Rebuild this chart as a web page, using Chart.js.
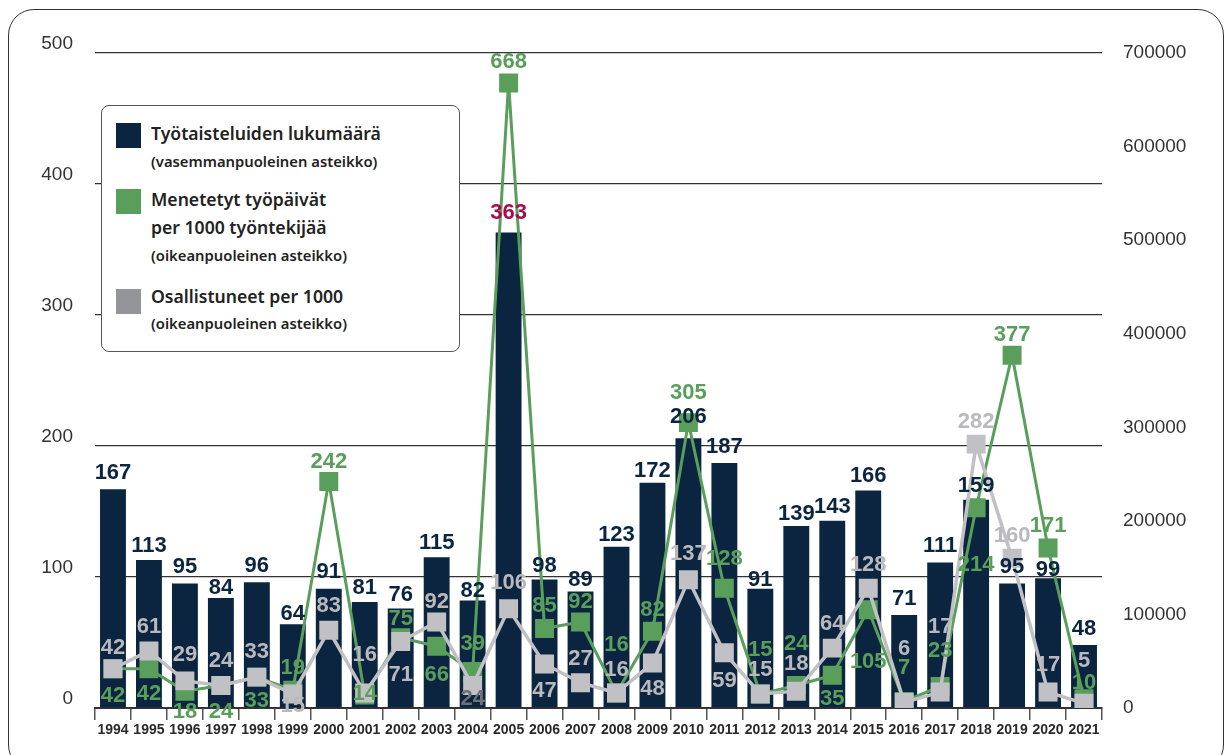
<!DOCTYPE html>
<html lang="fi">
<head>
<meta charset="utf-8">
<title>Työtaistelut 1994–2021</title>
<script src="https://cdn.jsdelivr.net/npm/chart.js@4.4.1/dist/chart.umd.min.js"></script>
<style>
    html, body { margin: 0; padding: 0; background: #fff; }
    #wrap { position: relative; width: 1232px; height: 755px; overflow: hidden; }
    #frame {
        position: absolute; left: 8px; top: 9px; width: 1214px; height: 760px;
        border: 1.5px solid #333; border-radius: 26px; pointer-events: none;
    }
    #legend {
        position: absolute; left: 101px; top: 105px; width: 357px; height: 245px;
        border: 1.5px solid #555; border-radius: 8px; background: #fff;
        font-family: "Noto Sans", sans-serif; color: #222;
    }
    #legend .sw { position: absolute; left: 14px; width: 25px; height: 25px; }
    #legend .t { position: absolute; left: 49px; white-space: nowrap; font-weight: 600; }
    #legend .big { font-size: 17.6px; line-height: 24px; }
    #legend .small { font-size: 14.8px; line-height: 20px; }
</style>
</head>
<body>
<div id="wrap">
    <canvas id="myChart" width="1232" height="755"></canvas>
    <div id="legend">
        <div class="sw" style="top:17px;background:#0b2540"></div>
        <div class="t big" style="top:15px">Työtaisteluiden lukumäärä</div>
        <div class="t small" style="top:45px">(vasemmanpuoleinen asteikko)</div>

        <div class="sw" style="top:83px;background:#5a9e5c"></div>
        <div class="t big" style="top:81px">Menetetyt työpäivät</div>
        <div class="t big" style="top:109px">per 1000 työntekijää</div>
        <div class="t small" style="top:139px">(oikeanpuoleinen asteikko)</div>

        <div class="sw" style="top:183px;background:#939598"></div>
        <div class="t big" style="top:178px">Osallistuneet per 1000</div>
        <div class="t small" style="top:207px">(oikeanpuoleinen asteikko)</div>
    </div>
    <div id="frame"></div>
</div>
<script>
// Data
const years = ['1994', '1995', '1996', '1997', '1998', '1999', '2000', '2001', '2002', '2003',
    '2004', '2005', '2006', '2007', '2008', '2009', '2010', '2011', '2012', '2013',
    '2014', '2015', '2016', '2017', '2018', '2019', '2020', '2021'];
const disputes = [167, 113, 95, 84, 96, 64, 91, 81, 76, 115, 82, 363, 98, 89, 123, 172, 206, 187,
    91, 139, 143, 166, 71, 111, 159, 95, 99, 48];
// right scale, shown in thousands (labels show the thousand value)
const lostDays = [42, 42, 18, 24, 33, 19, 242, 14, 75, 66, 39, 668, 85, 92, 16, 82, 305, 128,
    15, 24, 35, 105, 7, 23, 214, 377, 171, 10];
const participants = [42, 61, 29, 24, 33, 15, 83, 16, 71, 92, 24, 106, 47, 27, 16, 48, 137, 59,
    15, 18, 64, 128, 6, 17, 282, 160, 17, 5];
const leftTicks = [0, 100, 200, 300, 400, 500];
const rightTicks = [0, 100000, 200000, 300000, 400000, 500000, 600000, 700000];

// label placement (pixels, relative to bar top / marker centre)
const barLabelDy = [-16, -14, -17, -10, -16, -10, -17, -14, -14, -14, -10, -20, -14, -11, -12, -12,
    -21, -16, -9, -12, -14, -15, -16, -17, -14, -17, -8, -16];
const greenLabelDy = [27, 25, 21, 26, 24, -22, -20, -1, -19, 29, -28, -21, -23, -20, -48, -21,
    -30, -29, -44, -42, 24, 52, -34, -36, 57, -20, -22, -16];
const grayLabelDy = [-21, -24, -26, -25, -25, 12, -24, -38, 33, -20, 13, -26, 27, -24, -23, 26,
    -26, 28, -24, -27, -24, -23, -53, -65, -22, -22, -27, -42];

const navy = '#0b2540';
const green = '#5a9e5c';
const gray = '#c1c1c5';

const valueLabels = {
    id: 'valueLabels',
    afterDatasetsDraw(chart) {
        const ctx = chart.ctx;
        ctx.save();
        ctx.font = 'bold 22px "Liberation Sans", Arial, sans-serif';
        ctx.textAlign = 'center';
        ctx.textBaseline = 'middle';
        // bars first, then green, then gray labels
        [0, 1, 2].forEach(di => {
            const ds = chart.data.datasets[di];
            const meta = chart.getDatasetMeta(di);
            meta.data.forEach((el, i) => {
                const col = Array.isArray(ds.labelColor) ? ds.labelColor[i] : ds.labelColor;
                ctx.fillStyle = col;
                ctx.fillText(String(ds.data[i]), el.x, el.y + ds.labelDy[i]);
            });
        });
        ctx.restore();
    }
};

const barColors = disputes.map((v, i) => years[i] === '2005' ? '#a80b4c' : navy);
const grayLabelColors = participants.map((v, i) => years[i] === '2004' ? '#707075' : '#b9b9bd');

const cty = document.getElementById('myChart').getContext('2d');
new Chart(cty, {
    type: 'bar',
    data: {
        labels: years,
        datasets: [{
            type: 'bar',
            label: 'Työtaisteluiden lukumäärä',
            data: disputes,
            yAxisID: 'y',
            backgroundColor: navy,
            barPercentage: 0.72,
            categoryPercentage: 1.0,
            order: 2,
            labelDy: barLabelDy,
            labelColor: barColors
        }, {
            type: 'line',
            label: 'Menetetyt työpäivät per 1000 työntekijää',
            data: lostDays,
            yAxisID: 'y1',
            borderColor: green,
            borderWidth: 3,
            pointStyle: 'rect',
            pointRadius: 13.4,
            pointBackgroundColor: green,
            pointBorderWidth: 0,
            tension: 0,
            order: 1,
            labelDy: greenLabelDy,
            labelColor: green
        }, {
            type: 'line',
            label: 'Osallistuneet per 1000',
            data: participants,
            yAxisID: 'y1',
            borderColor: gray,
            borderWidth: 3.5,
            pointStyle: 'rect',
            pointRadius: 13.4,
            pointBackgroundColor: gray,
            pointBorderWidth: 0,
            tension: 0,
            order: 0,
            labelDy: grayLabelDy,
            labelColor: grayLabelColors
        }]
    },
    options: {
        responsive: false,
        animation: false,
        devicePixelRatio: 1,
        layout: {
            padding: { top: 53, left: 0, right: 0, bottom: 0 }
        },
        plugins: {
            legend: { display: false },
            tooltip: { enabled: false }
        },
        scales: {
            x: {
                offset: true,
                grid: {
                    offset: true,
                    drawOnChartArea: false,
                    drawTicks: true,
                    tickLength: 12,
                    color: '#555',
                    lineWidth: 1.5
                },
                border: { display: true, color: '#333', width: 2 },
                ticks: {
                    color: '#2a2a2a',
                    padding: 2,
                    maxRotation: 0,
                    autoSkip: false,
                    font: { family: '"Liberation Sans", Arial, sans-serif', size: 14, weight: 'bold' }
                },
                afterFit: function (scale) { scale.height = 47; }
            },
            y: {
                position: 'left',
                min: 0,
                max: 500,
                afterBuildTicks: function (scale) {
                    scale.ticks = leftTicks.map(v => ({ value: v }));
                },
                grid: { color: '#333', lineWidth: 1.3, drawTicks: false },
                border: { display: false },
                ticks: {
                    color: '#333',
                    padding: 22,
                    labelOffset: -9,
                    font: { family: '"Liberation Sans", Arial, sans-serif', size: 19 }
                },
                afterFit: function (scale) { scale.width = 95; }
            },
            y1: {
                position: 'right',
                min: 0,
                max: 700,
                afterBuildTicks: function (scale) {
                    scale.ticks = rightTicks.map(v => ({ value: v / 1000 }));
                },
                grid: { display: false, drawTicks: false },
                border: { display: false },
                ticks: {
                    color: '#333',
                    padding: 21,
                    callback: function (value) { return String(value * 1000); },
                    font: { family: '"Liberation Sans", Arial, sans-serif', size: 19 }
                },
                afterFit: function (scale) { scale.width = 130; }
            }
        }
    },
    plugins: [valueLabels]
});
</script>
</body>
</html>
